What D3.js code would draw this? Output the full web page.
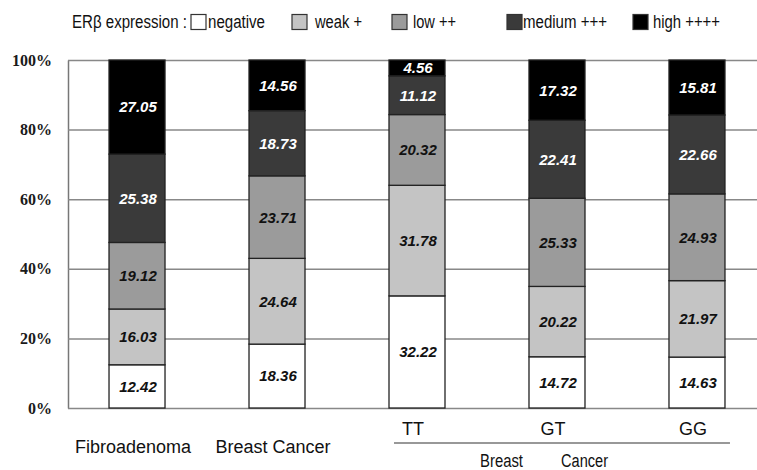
<!DOCTYPE html>
<html>
<head>
<meta charset="utf-8">
<script src="https://cdn.jsdelivr.net/npm/d3@7"></script>
<style>
  body { margin: 0; background: #fff; }
  svg { display: block; }
  .sans { font-family: "Liberation Sans", Arial, sans-serif; }
</style>
</head>
<body>
<svg id="chart" width="757" height="470"></svg>
<script>
const groups = ['Fibroadenoma', 'Breast Cancer', 'TT', 'GT', 'GG'];
const levels = ['negative', 'weak +', 'low ++', 'medium +++', 'high ++++'];
const negative = [12.42, 18.36, 32.22, 14.72, 14.63];
const weak     = [16.03, 24.64, 31.78, 20.22, 21.97];
const low      = [19.12, 23.71, 20.32, 25.33, 24.93];
const medium   = [25.38, 18.73, 11.12, 22.41, 22.66];
const high     = [27.05, 14.56, 4.56, 17.32, 15.81];
const yTicks = [0, 20, 40, 60, 80, 100];

const colors = ['#ffffff', '#c4c4c4', '#9b9b9b', '#3a3a3a', '#000000'];
const labelColors = ['#111', '#111', '#111', '#fff', '#fff'];

const svg = d3.select('#chart');
const plotLeft = 68, plotTop = 60, plotBottom = 408, plotRight = 757;

const rows = groups.map((g, i) => ({
  group: g,
  'negative': negative[i], 'weak +': weak[i], 'low ++': low[i],
  'medium +++': medium[i], 'high ++++': high[i]
}));
const stack = d3.stack().keys(levels)(rows);

const x = d3.scaleBand()
  .domain(groups)
  .range([plotLeft, 766])
  .paddingInner(0.6)
  .paddingOuter(0.293);

const y = d3.scaleLinear()
  .domain([0, 100])
  .range([plotBottom, plotTop]);

// gridlines + left axis
const yAxis = svg.append('g')
  .attr('transform', `translate(${plotLeft},0)`)
  .call(d3.axisLeft(y)
    .tickValues(yTicks)
    .tickFormat(d => d + '%')
    .tickSizeInner(-(plotRight - plotLeft))
    .tickSizeOuter(0)
    .tickPadding(16));
yAxis.select('.domain').attr('stroke', '#777').attr('stroke-width', 1.5);
yAxis.selectAll('.tick line').attr('stroke', '#888').attr('stroke-width', 1.5);
yAxis.selectAll('.tick text')
  .attr('fill', '#1a1a1a')
  .attr('font-family', '"Liberation Serif", "DejaVu Serif", serif')
  .style('font-family', '"Liberation Serif", "DejaVu Serif", serif')
  .style('font-weight', 'bold')
  .style('font-size', '16px');

// bars
const layer = svg.append('g').selectAll('g')
  .data(stack)
  .join('g')
  .attr('fill', (d, i) => colors[i]);

layer.selectAll('rect')
  .data(d => d)
  .join('rect')
  .attr('x', d => x(d.data.group))
  .attr('y', d => y(d[1]))
  .attr('width', x.bandwidth())
  .attr('height', d => y(d[0]) - y(d[1]))
  .attr('stroke', '#222')
  .attr('stroke-width', 1.3);

// value labels
stack.forEach((s, i) => {
  svg.append('g').selectAll('text')
    .data(s)
    .join('text')
    .attr('x', d => x(d.data.group) + x.bandwidth() / 2 + 1)
    .attr('y', d => y((d[0] + d[1]) / 2))
    .attr('dy', '0.36em')
    .attr('text-anchor', 'middle')
    .attr('fill', labelColors[i])
    .style('font-family', '"Liberation Sans", Arial, sans-serif')
    .style('font-weight', 'bold')
    .style('font-style', 'italic')
    .style('font-size', '15px')
    .text(d => (d[1] - d[0]).toFixed(2));
});

// category labels
const catY = { 'Fibroadenoma': 453, 'Breast Cancer': 453, 'TT': 435, 'GT': 435, 'GG': 435 };
svg.append('g').selectAll('text')
  .data(groups)
  .join('text')
  .attr('class', 'sans')
  .attr('x', d => x(d) + x.bandwidth() / 2 - 4)
  .attr('y', d => catY[d])
  .attr('text-anchor', 'middle')
  .attr('fill', '#111')
  .style('font-size', '18px')
  .text(d => d);

// genotype bracket
svg.append('line')
  .attr('x1', x('TT') + 5).attr('x2', x('GG') + x.bandwidth() + 5)
  .attr('y1', 443).attr('y2', 443)
  .attr('stroke', '#333').attr('stroke-width', 1.2);
svg.append('text').attr('class', 'sans')
  .attr('x', 480).attr('y', 467)
  .attr('fill', '#111').style('font-size', '18px')
  .attr('textLength', 43).attr('lengthAdjust', 'spacingAndGlyphs')
  .text('Breast');
svg.append('text').attr('class', 'sans')
  .attr('x', 561).attr('y', 467)
  .attr('fill', '#111').style('font-size', '18px')
  .attr('textLength', 47).attr('lengthAdjust', 'spacingAndGlyphs')
  .text('Cancer');

// legend (narrow type, squeezed to the reference widths)
const legend = svg.append('g');
legend.append('text').attr('class', 'sans')
  .attr('x', 72).attr('y', 28)
  .attr('fill', '#111').style('font-size', '18px')
  .attr('textLength', 115).attr('lengthAdjust', 'spacingAndGlyphs')
  .text('ERβ expression :');
const legendX = [191, 292, 392, 507, 633];
const legendTextX = [208, 315, 413, 523, 653];
const legendTextW = [57, 47, 43, 84, 67];
levels.forEach((lv, i) => {
  legend.append('rect')
    .attr('x', legendX[i]).attr('y', 14.5)
    .attr('width', 15).attr('height', 15)
    .attr('fill', colors[i])
    .attr('stroke', '#333').attr('stroke-width', 1.2);
  legend.append('text').attr('class', 'sans')
    .attr('x', legendTextX[i]).attr('y', 28)
    .attr('fill', '#111').style('font-size', '18px')
    .attr('textLength', legendTextW[i]).attr('lengthAdjust', 'spacingAndGlyphs')
    .text(lv);
});
</script>
</body>
</html>
